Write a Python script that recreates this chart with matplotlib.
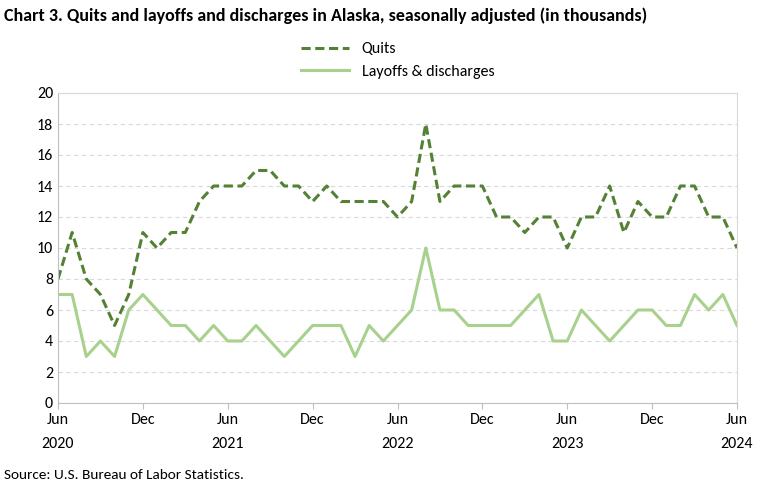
import matplotlib
matplotlib.use("Agg")
import matplotlib.pyplot as plt

quits = [8,11,8,7,5,7,11,
         10,11,11,13,14,14,14,15,15,14,14,13,
         14,13,13,13,13,12,13,18,13,14,14,14,
         12,12,11,12,12,10,12,12,14,11,13,12,
         12,14,14,12,12,10]
layoffs = [7,7,3,4,3,6,7,
           6,5,5,4,5,4,4,5,4,3,4,5,
           5,5,3,5,4,5,6,10,6,6,5,5,
           5,5,6,7,4,4,6,5,4,5,6,6,
           5,5,7,6,7,5]
tick_labels = ["Jun\n2020","Dec","Jun\n2021","Dec","Jun\n2022","Dec","Jun\n2023","Dec","Jun\n2024"]

plt.rcParams['font.family'] = ['Carlito', 'Liberation Sans', 'DejaVu Sans']
fig = plt.figure(figsize=(7.8, 4.88), dpi=100)
ax = fig.add_axes([58/780, 1-403/488, (737-58)/780, (403-93)/488])
x = list(range(len(quits)))
ax.plot(x, quits, color='#548235', lw=2.2, ls=(0,(3,1.5)), label='Quits')
ax.plot(x, layoffs, color='#a9d18e', lw=2.2, label='Layoffs & discharges')
ax.set_xlim(0, 48); ax.set_ylim(0, 20)
ax.set_yticks(range(0, 21, 2))
ax.set_xticks(range(0, 49, 6))
ax.set_xticklabels(tick_labels, fontsize=11.5, linespacing=1.9)
ax.tick_params(axis='y', labelsize=11.5, length=0)
ax.tick_params(axis='x', length=4, color='#bfbfbf')
ax.grid(axis='y', ls=(0,(4,3)), color='#d9d9d9', lw=0.8)
for s in ['top','right']:
    ax.spines[s].set_color('#d9d9d9')
for s in ['left','bottom']:
    ax.spines[s].set_color('#bfbfbf')
ax.legend(loc='lower center', bbox_to_anchor=(0.5, 1.0), ncol=1, frameon=False, fontsize=11.5, handlelength=3)
fig.text(0.005, 0.985, "Chart 3. Quits and layoffs and discharges in Alaska, seasonally adjusted (in thousands)",
         fontsize=13, fontweight='bold', va='top')
fig.text(0.005, 0.015, "Source: U.S. Bureau of Labor Statistics.", fontsize=11, va='bottom')
fig.savefig("out.png", dpi=100)
